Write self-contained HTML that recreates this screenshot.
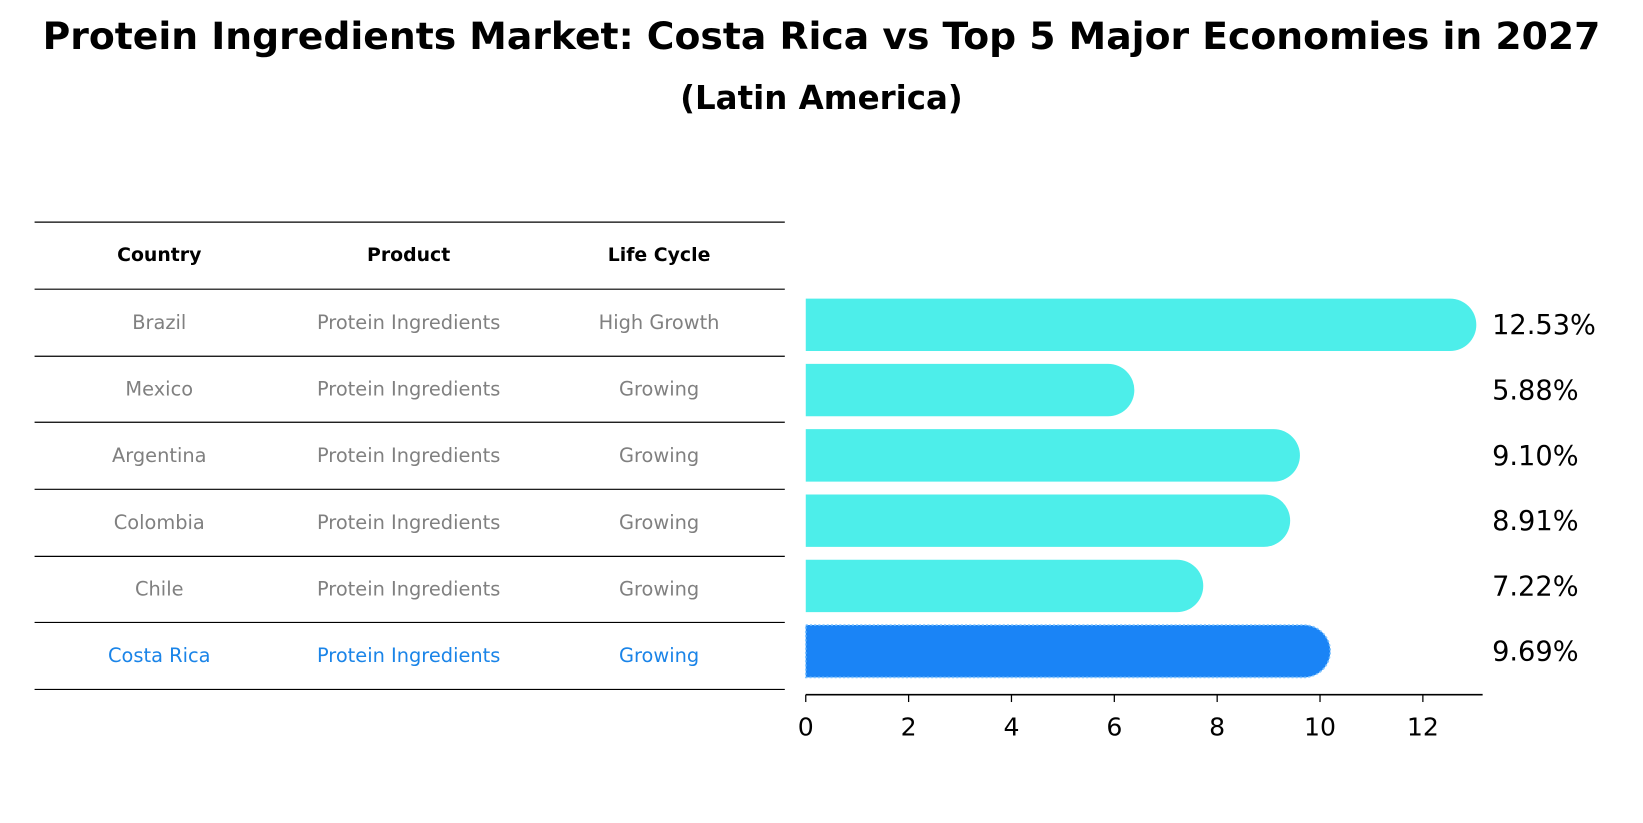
<!DOCTYPE html>
<html><head><meta charset="utf-8"><style>
body{margin:0;background:#fff;font-family:"Liberation Sans","DejaVu Sans",sans-serif;}
#wrap{position:relative;width:1643px;height:823px;overflow:hidden;}
</style></head><body>
<div id="wrap">
<svg id="svg" width="1643" height="823" xmlns="http://www.w3.org/2000/svg" font-family="DejaVu Sans, Liberation Sans, sans-serif">
<g transform="scale(1.0478)">
<text x="784" y="47" text-anchor="middle" font-size="36" font-weight="bold">Protein Ingredients Market: Costa Rica vs Top 5 Major Economies in 2027</text>
<text x="784" y="104" text-anchor="middle" font-size="31" font-weight="bold">(Latin America)</text>
<g id="table"></g>
<g id="bars"></g>
<g id="axis"></g>
</g>
</svg>
</div>
<script>
const countries=["Brazil","Mexico","Argentina","Colombia","Chile","Costa Rica"];
const products=["Protein Ingredients","Protein Ingredients","Protein Ingredients","Protein Ingredients","Protein Ingredients","Protein Ingredients"];
const lifecycles=["High Growth","Growing","Growing","Growing","Growing","Growing"];
const values=[12.53,5.88,9.10,8.91,7.22,9.69];
const ticks=[0,2,4,6,8,10,12];
const NS="http://www.w3.org/2000/svg";
function mk(t,a,p){const e=document.createElementNS(NS,t);for(const k in a)e.setAttribute(k,a[k]);p.appendChild(e);return e;}
const x=v=>769+v*49.08;
const rowY=i=>310+i*62.3;
const tbl=document.getElementById('table');
const lines=[212,276,340,403,467,531,594,658];
lines.forEach(y=>{const l=mk('line',{x1:33,x2:749,y1:y,y2:y,stroke:'#000','stroke-width':1.1},tbl);

});
const cx=[152,390,629];
["Country","Product","Life Cycle"].forEach((h,j)=>{const t=mk('text',{x:cx[j],y:249,'text-anchor':'middle','font-size':18,'font-weight':'bold'},tbl);t.textContent=h;

});
countries.forEach((c,i)=>{const y=(lines[i+1]+lines[i+2])/2+6;const col=i===5?'#1a84e8':'#808080';
[c,products[i],lifecycles[i]].forEach((s,j)=>{const t=mk('text',{x:cx[j],y:y,'text-anchor':'middle','font-size':18.5,fill:col},tbl);t.textContent=s;

});});
const bars=document.getElementById('bars');
const h=50;
values.forEach((v,i)=>{const y=rowY(i);const hl=i===5;const fill=hl?'#1a84f6':'#4deeea';
const x1=x(v);const r=h/2;
const d=`M769,${y-r} L${x1},${y-r} A${r},${r} 0 0 1 ${x1},${y+r} L769,${y+r} Z`;
const p=mk('path',{d:d,fill:fill},bars);
if(hl){p.setAttribute('stroke','#7fc4ff');p.setAttribute('stroke-dasharray','2,2');p.setAttribute('stroke-width','1.5');}


const t=mk('text',{x:1424,y:y+9,'font-size':26},bars);t.textContent=v.toFixed(2)+'%';

});
const ax=document.getElementById('axis');
mk('line',{x1:769,x2:1415,y1:663,y2:663,stroke:'#000','stroke-width':1.5},ax);
ticks.forEach(v=>{mk('line',{x1:x(v),x2:x(v),y1:663,y2:670,stroke:'#000','stroke-width':1.2},ax);
const t=mk('text',{x:x(v),y:702,'text-anchor':'middle','font-size':24},ax);t.textContent=v;

});
</script>
</body></html>
